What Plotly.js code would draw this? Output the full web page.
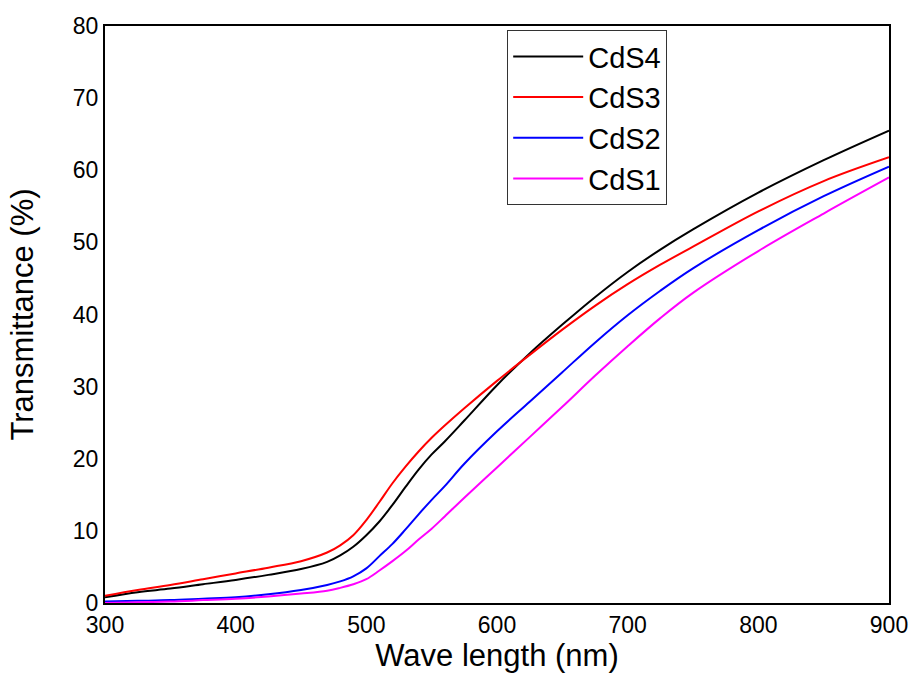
<!DOCTYPE html>
<html>
<head>
<meta charset="utf-8">
<script src="https://cdn.plot.ly/plotly-3.0.1.min.js"></script>
<style>html,body{margin:0;padding:0;background:#fff;}#chart{width:912px;height:673px;}</style>
</head>
<body>
<div id="chart"></div>
<script>
const wavelength = [300, 325, 350, 375, 400, 425, 450, 470, 480, 490, 500, 510, 520, 530, 540, 550, 560, 575, 600, 625, 650, 675, 700, 725, 750, 800, 850, 900];
const cds4 = [0.8, 1.5, 2.0, 2.6, 3.2, 3.9, 4.7, 5.7, 6.6, 7.8, 9.4, 11.3, 13.6, 16.1, 18.5, 20.6, 22.4, 25.3, 30.2, 34.6, 38.6, 42.4, 45.9, 49.0, 51.8, 56.9, 61.4, 65.5];
const cds3 = [1.0, 1.8, 2.5, 3.3, 4.1, 4.9, 5.8, 7.0, 8.0, 9.4, 11.5, 14.0, 16.6, 18.9, 21.0, 22.9, 24.6, 27.0, 30.8, 34.4, 37.9, 41.2, 44.2, 46.9, 49.4, 54.3, 58.5, 61.8];
const cds2 = [0.2, 0.3, 0.4, 0.6, 0.8, 1.2, 1.8, 2.5, 3.0, 3.7, 4.8, 6.5, 8.2, 10.2, 12.3, 14.3, 16.2, 19.3, 23.8, 27.9, 32.0, 36.1, 39.9, 43.3, 46.4, 51.7, 56.4, 60.5];
const cds1 = [0.0, 0.1, 0.2, 0.4, 0.6, 0.9, 1.3, 1.7, 2.1, 2.6, 3.3, 4.5, 5.8, 7.2, 8.8, 10.3, 12.0, 14.6, 18.8, 23.0, 27.2, 31.5, 35.6, 39.5, 43.0, 48.8, 54.0, 59.0];
const seriesNames = ["CdS4", "CdS3", "CdS2", "CdS1"];
const seriesColors = ["#000000", "#ff0000", "#0000ff", "#ff00ff"];
const seriesData = [cds4, cds3, cds2, cds1];

const traces = seriesData.map((ys, i) => ({
  x: wavelength, y: ys, type: 'scatter', mode: 'lines',
  name: seriesNames[i],
  line: {color: seriesColors[i], width: 2, shape: 'spline', smoothing: 1}
}));

const layout = {
  width: 912, height: 673,
  margin: {l: 105, r: 23, t: 26, b: 70},
  paper_bgcolor: '#fff', plot_bgcolor: '#fff',
  font: {family: 'Liberation Sans, Arial, sans-serif', color: '#000'},
  showlegend: true,
  legend: {
    x: 0.513, y: 0.993, xanchor: 'left', yanchor: 'top',
    bordercolor: '#333', borderwidth: 1, bgcolor: '#fff',
    font: {size: 29, color: '#000'}, tracegroupgap: 0, traceorder: 'normal',
    itemwidth: 70
  },
  xaxis: {
    range: [300, 900], tickvals: [300, 400, 500, 600, 700, 800, 900],
    ticks: '', showgrid: false, zeroline: false,
    showline: true, linecolor: '#000', linewidth: 2, mirror: true,
    tickfont: {size: 23}, automargin: false,
    title: {text: 'Wave length (nm)', font: {size: 31}, standoff: 12}
  },
  yaxis: {
    range: [0, 80], tickvals: [0, 10, 20, 30, 40, 50, 60, 70, 80],
    ticks: '', showgrid: false, zeroline: false,
    showline: true, linecolor: '#000', linewidth: 2, mirror: true,
    tickfont: {size: 23}, automargin: false,
    title: {text: 'Transmittance (%)', font: {size: 31}, standoff: 30}
  }
};
Plotly.newPlot('chart', traces, layout, {displayModeBar: false, staticPlot: true});
</script>
</body>
</html>
